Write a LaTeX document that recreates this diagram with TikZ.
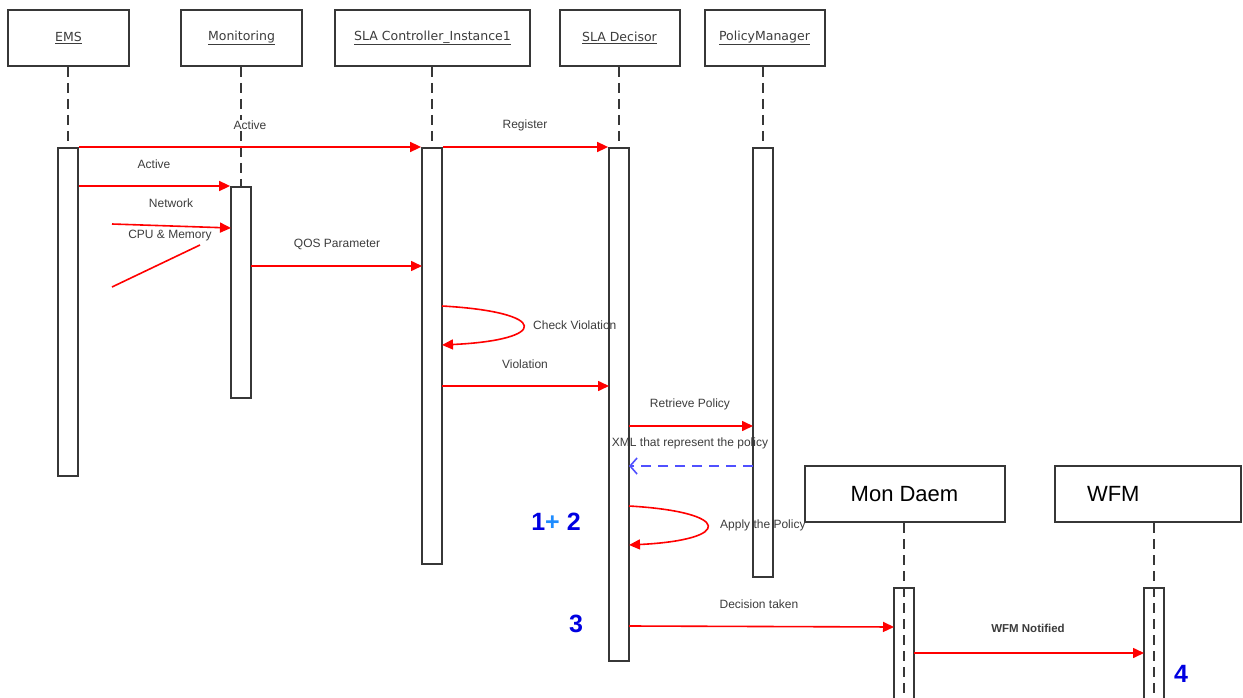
\documentclass[tikz,border=0pt]{standalone}
\usepackage{fontspec}
\setmainfont{Liberation Sans}
\newfontfamily\boxfont{DejaVu Sans}
\usetikzlibrary{arrows.meta}
\definecolor{boxgray}{RGB}{55,55,55}
\definecolor{msgred}{RGB}{255,0,0}
\definecolor{txtgray}{RGB}{60,60,60}
\definecolor{retblue}{RGB}{80,80,255}
\definecolor{numblue}{RGB}{0,0,225}
\definecolor{plusblue}{RGB}{30,140,255}
\begin{document}
\begin{tikzpicture}[x=1pt,y=-1pt,
  obj/.style={draw=boxgray, line width=2pt, fill=white, inner sep=0pt,
    minimum height=56pt, font=\boxfont\fontsize{12.5}{14}\selectfont, text=txtgray},
  bigobj/.style={obj, font=\fontsize{22}{26}\selectfont, text=black},
  actbar/.style={draw=boxgray, line width=1.8pt, fill=white, inner sep=0pt,
    minimum width=20pt, anchor=north},
  life/.style={draw=boxgray, line width=1.8pt, dash pattern=on 10pt off 6pt},
  msg/.style={draw=msgred, line width=1.6pt, -{Triangle[length=11pt,width=10pt]}},
  ret/.style={draw=retblue, line width=1.8pt, dash pattern=on 10pt off 7pt,
    -{Straight Barb[length=7pt,width=16pt,line width=1.6pt]}},
  lbl/.style={font=\fontsize{12}{14}\selectfont, text=txtgray, inner sep=1pt},
  num/.style={font=\bfseries\fontsize{25}{30}\selectfont, text=numblue, inner sep=0pt}
]
\useasboundingbox (0,0) rectangle (1243,698);
\clip (0,0) rectangle (1243,698);

% participants
\node[obj, minimum width=121pt] (ems) at (68.5,38) {\underline{EMS}};
\node[obj, minimum width=121pt] (mon) at (241.5,38) {\underline{Monitoring}};
\node[obj, minimum width=195pt] (ctl) at (432.5,38) {\underline{SLA Controller\_Instance1}};
\node[obj, minimum width=120pt] (dec) at (619.5,38) {\underline{SLA Decisor}};
\node[obj, minimum width=120pt] (pm) at (764.5,38) {\underline{PolicyManager}};
\node[bigobj, minimum width=200pt] (md) at (904.5,494) {Mon Daem};
\node[bigobj, minimum width=186pt, text width=170pt, align=left] (wfm) at (1148,494) {\hspace*{24pt}WFM};

% activation bars
\node[actbar, minimum height=328pt] (bEMS) at (68,147) {};
\node[actbar, minimum height=211pt] (bMon) at (241,186) {};
\node[actbar, minimum height=416pt] (bCtl) at (432,147) {};
\node[actbar, minimum height=513pt] (bDec) at (619,147) {};
\node[actbar, minimum height=429pt] (bPM) at (763,147) {};
\node[actbar, fill=none, minimum height=130pt] (bMD) at (904,587) {};
\node[actbar, fill=none, minimum height=130pt] (bWFM) at (1154,587) {};

% lifelines
\draw[life] (ems.south -| bEMS.north) -- (bEMS.north);
\draw[life] (mon.south -| bMon.north) -- (bMon.north);
\draw[life] (ctl.south -| bCtl.north) -- (bCtl.north);
\draw[life] (dec.south -| bDec.north) -- (bDec.north);
\draw[life] (pm.south -| bPM.north) -- (bPM.north);
\coordinate (mdEnd) at (904,698);
\coordinate (wfmEnd) at (1154,698);
\draw[life] (md.south -| bMD.north) -- (mdEnd);
\draw[life] (wfm.south -| bWFM.north) -- (wfmEnd);

% message end points
\coordinate (netS) at (112,224);
\coordinate (netE) at (231,228);
\coordinate (cpuS) at (112,287);
\coordinate (cpuE) at (200,245);
\coordinate (qosS) at (251,266);
\coordinate (qosE) at (422,266);
\coordinate (chkS) at (442,306);
\coordinate (chkE) at (442,345);
\coordinate (vioS) at (442,386);
\coordinate (vioE) at (609,386);
\coordinate (retS) at (629,426);
\coordinate (retE) at (753,426);
\coordinate (xmlS) at (753,466);
\coordinate (xmlE) at (629,466);
\coordinate (appS) at (629,506);
\coordinate (appE) at (629,545);
\coordinate (decS) at (629,626);
\coordinate (decE) at (894,627);
\coordinate (notS) at (914,653);
\coordinate (notE) at (1144,653);

% messages
\draw[msg] (bEMS.north east) -- (bCtl.north west);
\node[lbl, fill=white] (lActive1) at (250,125) {Active};
\draw[msg] (bCtl.north east) -- (bDec.north west);
\node[lbl] (lRegister) at (525,125) {Register};

\draw[msg] (bEMS.east |- bMon.north) -- (bMon.north west);
\node[lbl] (lActive2) at (154,164) {Active};

\draw[msg] (netS) -- (netE);
\node[lbl] (lNetwork) at (171,203) {Network};
\draw[draw=msgred, line width=1.6pt] (cpuS) -- (cpuE);
\node[lbl] (lCpu) at (170,236) {CPU \& Memory};

\draw[msg] (qosS) -- (qosE);
\node[lbl] (lQos) at (337,244) {QOS Parameter};

\draw[msg] (chkS) .. controls (550,312) and (550,340) .. (chkE);
\node[lbl, anchor=west] (lCheck) at (532,325) {Check Violation};

\draw[msg] (vioS) -- (vioE);
\node[lbl] (lViolation) at (525,364) {Violation};

\draw[msg] (retS) -- (retE);
\node[lbl] (lRetrieve) at (690,404) {Retrieve Policy};

\node[lbl] (lXml) at (690,443) {XML that represent the policy};
\draw[ret] (xmlS) -- (xmlE);

\draw[msg] (appS) .. controls (733,512) and (733,540) .. (appE);
\node[lbl, anchor=west] (lApply) at (719,525) {Apply the Policy};

\draw[msg] (decS) -- (decE);
\node[lbl] (lDecision) at (759,604) {Decision taken};

\draw[msg] (notS) -- (notE);
\node[lbl, font=\bfseries\fontsize{11.5}{14}\selectfont] (lNotified) at (1028,628) {WFM Notified};

% step numbers
\node[num] (n12) at (556,522) {1\textcolor{plusblue}{+} 2};
\node[num] (n3) at (576,624) {3};
\node[num] (n4) at (1181,674) {4};
\end{tikzpicture}
\end{document}
